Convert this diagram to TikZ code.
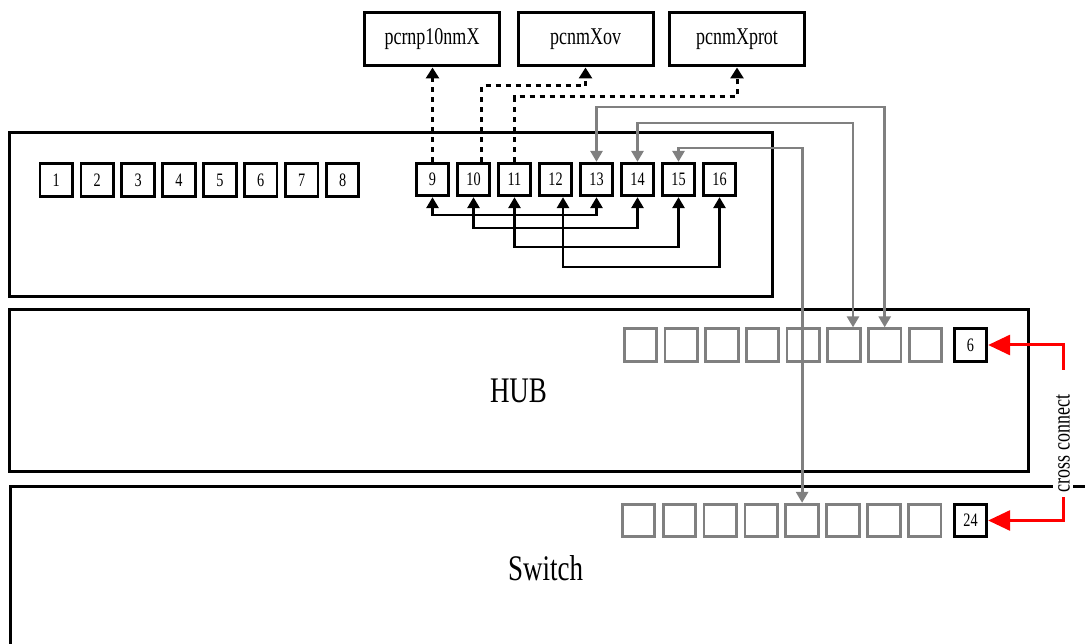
\documentclass[tikz,border=0pt]{standalone}
\usepackage{fontspec}
\setmainfont[FakeStretch=0.75]{Liberation Serif}
\usetikzlibrary{arrows.meta}

\definecolor{portgray}{RGB}{128,128,128}
\definecolor{xred}{RGB}{255,0,0}

\begin{document}
\begin{tikzpicture}[x=1pt, y=-1pt,
  device/.style={draw, line width=3pt, inner sep=0pt},
  hostbox/.style={draw, line width=3pt, minimum width=135pt, minimum height=53pt,
    inner sep=0pt, font=\fontsize{24}{24}\selectfont},
  portbox/.style={draw, line width=2.8pt, minimum size=32.5pt, inner sep=0pt,
    font=\fontsize{19}{19}\selectfont},
  gportbox/.style={portbox, draw=portgray},
  biarrow/.style={line width=2.8pt,
    {Triangle[length=11pt,width=12pt]}-{Triangle[length=11pt,width=12pt]}},
  grayarrow/.style={biarrow, color=portgray},
  dotarrow/.style={line width=3pt, dash pattern=on 5pt off 5pt,
    -{Triangle[length=11pt,width=13pt]}},
  redarrow/.style={line width=3pt, color=xred, -{Triangle[length=22pt,width=20pt]}},
  lbl/.style={inner sep=0pt}
]
\useasboundingbox (0,0) rectangle (1085,644);
\clip (0,0) rectangle (1085,644);

% equipment frames
\node[device, minimum width=763pt, minimum height=164pt] (panel) at (390.5,215) {};
\node[device, minimum width=1019pt, minimum height=162pt,
      font=\fontsize{36}{36}\selectfont] (hub) at (518.5,390.5) {HUB};
\node[device, minimum width=1200pt, minimum height=300pt, anchor=north west]
      (switch) at (9,484.5) {};
\node[lbl, font=\fontsize{36}{36}\selectfont] (switchname) at (545.5,568) {Switch};

% hosts
\node[hostbox] (b1) at (432,39.5) {pcrnp10nmX};
\node[hostbox] (b2) at (585.5,39.5) {pcnmXov};
\node[hostbox] (b3) at (737,39.5) {pcnmXprot};

% patch panel ports
\foreach \i in {1,...,8}
  \node[portbox] (p\i) at ({56.3+40.9*(\i-1)},180) {\i};
\foreach \i in {9,...,16}
  \node[portbox] (p\i) at ({432.5+41*(\i-9)},179.5) {\i};

% hub ports
\foreach \k in {1,...,8}
  \node[gportbox] (h\k) at ({640.5+40.7*(\k-1)},345) {};
\node[portbox] (hup) at (970.5,345) {6};

% switch ports
\foreach \k in {1,...,8}
  \node[gportbox] (s\k) at ({638.5+40.9*(\k-1)},520.5) {};
\node[portbox] (sup) at (970.5,520.5) {24};

% routing levels
\coordinate (r1) at (0,215);
\coordinate (r2) at (0,228);
\coordinate (r3) at (0,247);
\coordinate (r4) at (0,267);
\coordinate (g1) at (0,107);
\coordinate (g2) at (0,123);
\coordinate (g3) at (0,148);
\coordinate (d1) at (0,86);
\coordinate (d2) at (0,97);

% patch cords between panel ports
\coordinate (p12b) at ([xshift=7.5pt]p12.south);
\draw[biarrow] (p9.south)  -- (p9.south |- r1)  -| (p13.south);
\draw[biarrow] (p10.south) -- (p10.south |- r2) -| (p14.south);
\draw[biarrow] (p11.south) -- (p11.south |- r3) -| (p15.south);
\draw[biarrow] (p12b)      -- (p12b |- r4)      -| (p16.south);

% host links
\coordinate (p10t) at ([xshift=8pt]p10.north);
\draw[dotarrow] (p9.north) -- (p9.north |- b1.south);
\draw[dotarrow] (p10t) -- (p10t |- d1) -| (b2.south);
\draw[dotarrow] (p11.north) -- (p11.north |- d2) -| (b3.south);

% uplinks to hub and switch
\coordinate (h6t) at ([xshift=9pt]h6.north);
\draw[grayarrow] (p13.north) -- (p13.north |- g1) -| (h7.north);
\draw[grayarrow] (p14.north) -- (p14.north |- g2) -| (h6t);
\draw[grayarrow] (p15.north) -- (p15.north |- g3) -| (s5.north);

% cross connect between hub and switch
\node[fill=white, rotate=90, inner xsep=3pt, inner ysep=3pt,
      font=\fontsize{24}{24}\selectfont] (cc) at (1063,443.5) {cross connect};
\coordinate (ccup) at (1063,370);
\coordinate (ccdn) at (1063,497);
\draw[redarrow] (ccup) |- (hup.east);
\draw[redarrow] (ccdn) |- (sup.east);
\end{tikzpicture}
\end{document}
